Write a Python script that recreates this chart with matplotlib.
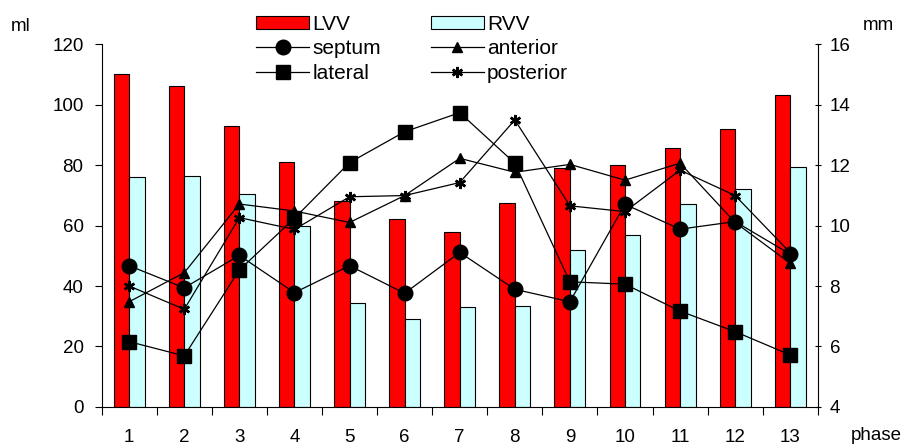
import matplotlib
matplotlib.use("Agg")
import matplotlib.pyplot as plt
import numpy as np
from matplotlib.lines import Line2D
from matplotlib.patches import Patch

phases = [str(i) for i in range(1, 14)]
lvv = [110, 106, 93, 81, 68, 62, 58, 67.5, 79, 80, 85.5, 92, 103]
rvv = [76, 76.5, 70.5, 60, 34.5, 29, 33, 33.5, 52, 57, 67, 72, 79.5]
septum = [8.67, 7.94, 9.01, 7.78, 8.67, 7.76, 9.11, 7.89, 7.48, 10.7, 9.88, 10.13, 9.05]
anterior = [7.48, 8.44, 10.71, 10.48, 10.1, 10.99, 12.22, 11.76, 12.02, 11.5, 12.06, 10.1, 8.75]
lateral = [6.16, 5.69, 8.53, 10.24, 12.08, 13.1, 13.73, 12.06, 8.14, 8.06, 7.17, 6.49, 5.72]
posterior = [8.0, 7.23, 10.26, 9.87, 10.95, 10.99, 11.42, 13.49, 10.65, 10.46, 11.83, 10.99, 9.1]

plt.rcParams['font.family'] = ['Liberation Sans', 'DejaVu Sans']
FS = 13.5

fig = plt.figure(figsize=(9.10, 4.45), dpi=100)
ax = fig.add_axes([0.1117, 0.0854, 0.787, 0.8157])
x = np.arange(len(phases))
w = 0.28
ax.bar(x - w/2, lvv, w, color='#FF0000', edgecolor='black', linewidth=0.8, zorder=2)
ax.bar(x + w/2, rvv, w, color='#CCFFFF', edgecolor='black', linewidth=0.8, zorder=2)
ax.set_xlim(-0.5, len(phases) - 0.5)
ax.set_ylim(0, 120)
ax.set_yticks(range(0, 121, 20))
ax.set_xticks(x)
ax.set_xticklabels(phases)
ax.set_xticks(np.arange(-0.5, len(phases), 1), minor=True)
ax.tick_params(axis='x', which='major', length=0, pad=16, labelsize=FS)
ax.tick_params(axis='x', which='minor', length=6, direction='out', width=0.8)
ax.tick_params(axis='y', length=5, direction='out', labelsize=FS, width=0.8, pad=8)
for s in ['top', 'right']:
    ax.spines[s].set_visible(False)

ax2 = ax.twinx()
ax2.set_ylim(4, 16)
ax2.set_yticks(range(4, 17, 2))
ax2.tick_params(axis='y', length=5, direction='inout', labelsize=FS, width=0.8, pad=6)
for s in ['top', 'left', 'bottom']:
    ax2.spines[s].set_visible(False)

lk = dict(color='black', linewidth=0.9)
ax2.plot(x, septum, marker='o', markersize=10.5, **lk)
ax2.plot(x, anterior, marker='^', markersize=7, **lk)
ax2.plot(x, lateral, marker='s', markersize=10.5, **lk)
ax2.plot(x, posterior, marker=(6, 2, 0), markersize=8, markeredgewidth=1.8, **lk)

fig.text(0.012, 0.94, 'ml', fontsize=FS, ha='left', va='center')
fig.text(0.948, 0.942, 'mm', fontsize=FS, ha='left', va='center')
fig.text(0.935, 0.022, 'phase', fontsize=FS, ha='left', va='center')

handles = [
    Patch(facecolor='#FF0000', edgecolor='black', linewidth=0.8),
    Line2D([], [], marker='o', markersize=10.5, **lk),
    Line2D([], [], marker='s', markersize=10.5, **lk),
    Patch(facecolor='#CCFFFF', edgecolor='black', linewidth=0.8),
    Line2D([], [], marker='^', markersize=7, **lk),
    Line2D([], [], marker=(6, 2, 0), markersize=8, markeredgewidth=1.8, **lk),
]
labels = ['LVV', 'septum', 'lateral', 'RVV', 'anterior', 'posterior']
fig.legend(handles, labels, ncol=2, loc='upper left', bbox_to_anchor=(256/910, 1 - 15/445),
           frameon=False, fontsize=15, handlelength=2.55, handleheight=0.63,
           handletextpad=0.15, columnspacing=2.4, labelspacing=0.26,
           borderaxespad=0, borderpad=0)

fig.savefig('out.png', dpi=100)
